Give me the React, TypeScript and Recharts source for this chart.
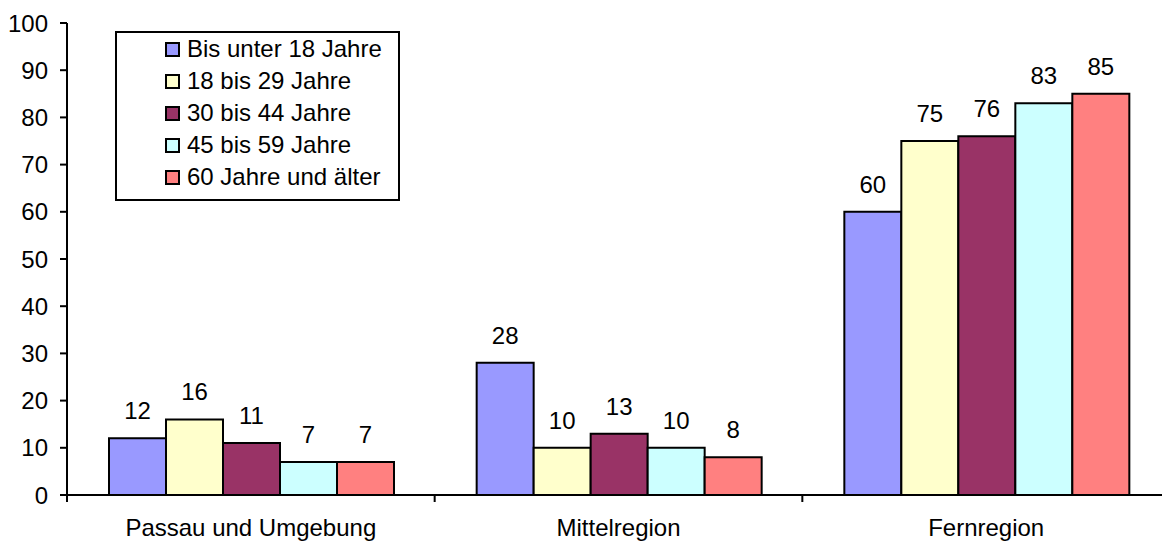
import React from 'react';
import { BarChart, Bar, XAxis, YAxis, Legend, LabelList } from 'recharts';

// Regions (categories on the x axis)
const regions = ['Passau und Umgebung', 'Mittelregion', 'Fernregion'];

// Age groups (one bar series each)
const ageGroups = [
  'Bis unter 18 Jahre',
  '18 bis 29 Jahre',
  '30 bis 44 Jahre',
  '45 bis 59 Jahre',
  '60 Jahre und älter',
];

// Values per region, in the order of `regions`
const under18 = [12, 28, 60];
const age18to29 = [16, 10, 75];
const age30to44 = [11, 13, 76];
const age45to59 = [7, 10, 83];
const age60plus = [7, 8, 85];

const yTicks = [0, 10, 20, 30, 40, 50, 60, 70, 80, 90, 100];

const seriesValues = [under18, age18to29, age30to44, age45to59, age60plus];
const seriesColors = ['#9999FF', '#FFFFCC', '#993366', '#CCFFFF', '#FF8080'];

const data = regions.map((region, i) => {
  const row: Record<string, string | number> = { region };
  seriesValues.forEach((values, s) => {
    row[`s${s}`] = values[i];
  });
  return row;
});

const FONT = '"Liberation Sans", Arial, sans-serif';
const FONT_SIZE = 24;

// Category label centred under the group, with a small tick at the group's left boundary
const CategoryTick = (props: any) => {
  const { x, y, payload, width, visibleTicksCount } = props;
  const half = payload.offset || width / visibleTicksCount / 2;
  return (
    <g>
      <line x1={x - half} x2={x - half} y1={y} y2={y + 7} stroke="#000" strokeWidth={2} />
      <text x={x} y={y + 41} textAnchor="middle" fill="#000" fontSize={FONT_SIZE} fontFamily={FONT}>
        {payload.value}
      </text>
    </g>
  );
};

// Boxed legend listing the age groups in series order
const LegendBox = (props: any) => {
  const payload: any[] = [...(props.payload || [])].sort(
    (a, b) => ageGroups.indexOf(a.value) - ageGroups.indexOf(b.value)
  );
  return (
    <div
      style={{
        width: 285,
        height: 170,
        boxSizing: 'border-box',
        border: '2px solid #000',
        background: '#fff',
        paddingLeft: 48,
        paddingTop: 0,
        fontFamily: FONT,
        color: '#000',
      }}
    >
      {payload.map((item) => (
        <div key={item.value} style={{ display: 'flex', alignItems: 'center', height: 32 }}>
          <span
            style={{
              display: 'inline-block',
              width: 15,
              height: 15,
              boxSizing: 'border-box',
              border: '2px solid #000',
              background: item.color,
              marginRight: 7,
              flexShrink: 0,
            }}
          />
          <span style={{ fontSize: FONT_SIZE, lineHeight: '32px', whiteSpace: 'nowrap' }}>{item.value}</span>
        </div>
      ))}
    </div>
  );
};

export default function App() {
  return (
    <div
      style={{
        position: 'fixed',
        left: 0,
        top: 0,
        width: 1162,
        height: 543,
        overflow: 'hidden',
        background: '#fff',
        fontFamily: FONT,
      }}
    >
      <BarChart
        width={1170}
        height={543}
        data={data}
        margin={{ top: 23, right: 0, bottom: 0, left: 0 }}
        barCategoryGap={42}
        barGap={0}
      >
        <XAxis
          dataKey="region"
          height={48}
          axisLine={{ stroke: '#000', strokeWidth: 2 }}
          tickLine={false}
          tickSize={0}
          tickMargin={0}
          tick={<CategoryTick />}
          interval={0}
        />
        <YAxis
          width={67}
          domain={[0, 100]}
          ticks={yTicks}
          interval={0}
          axisLine={{ stroke: '#000', strokeWidth: 2 }}
          tickLine={{ stroke: '#000', strokeWidth: 2 }}
          tickSize={7}
          tickMargin={12}
          tick={{ fill: '#000', fontSize: FONT_SIZE, fontFamily: FONT }}
        />
        <Legend
          layout="vertical"
          align="center"
          verticalAlign="middle"
          content={<LegendBox />}
          wrapperStyle={{ left: 115, top: 31, width: 285, height: 170 }}
        />
        {ageGroups.map((name, s) => (
          <Bar
            key={name}
            dataKey={`s${s}`}
            name={name}
            fill={seriesColors[s]}
            stroke="#000"
            strokeWidth={2}
            isAnimationActive={false}
          >
            <LabelList
              dataKey={`s${s}`}
              position="top"
              offset={19}
              fill="#000"
              fontSize={FONT_SIZE}
              fontFamily={FONT}
            />
          </Bar>
        ))}
      </BarChart>
    </div>
  );
}
